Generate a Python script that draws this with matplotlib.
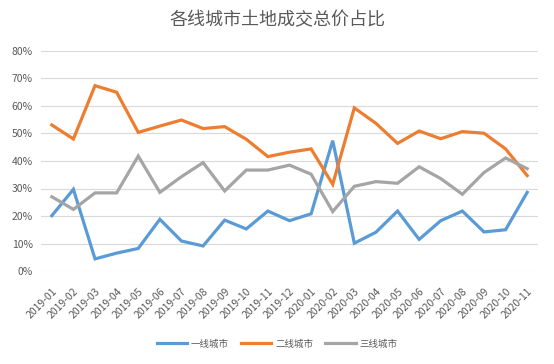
import matplotlib
matplotlib.use("Agg")
import matplotlib.pyplot as plt
from matplotlib.ticker import FuncFormatter, MultipleLocator

plt.rcParams['font.family'] = ['Noto Sans CJK SC', 'DejaVu Sans']

months = ["2019-01", "2019-02", "2019-03", "2019-04", "2019-05", "2019-06", "2019-07",
          "2019-08", "2019-09", "2019-10", "2019-11", "2019-12", "2020-01", "2020-02",
          "2020-03", "2020-04", "2020-05", "2020-06", "2020-07", "2020-08", "2020-09",
          "2020-10", "2020-11"]
tier1 = [20.1, 29.7, 4.4, 6.5, 8.2, 18.8, 10.9, 9.1, 18.5, 15.3, 21.8, 18.3, 20.8,
         47.4, 10.1, 14.1, 21.8, 11.5, 18.3, 21.8, 14.2, 15.0, 28.6]
tier2 = [53.1, 48.0, 67.4, 65.0, 50.4, 52.7, 54.9, 51.8, 52.5, 47.9, 41.6, 43.2, 44.4,
         31.5, 59.3, 53.7, 46.4, 50.9, 48.1, 50.7, 50.1, 44.4, 34.7]
tier3 = [27.0, 22.4, 28.4, 28.4, 41.8, 28.6, 34.3, 39.4, 29.1, 36.7, 36.7, 38.5, 35.2,
         21.6, 30.8, 32.5, 31.9, 37.9, 33.6, 27.9, 35.8, 41.1, 37.2]
series_names = ["一线城市", "二线城市", "三线城市"]
colors = ["#5B9BD5", "#ED7D31", "#A5A5A5"]
title = "各线城市土地成交总价占比"

fig = plt.figure(figsize=(5.54, 3.64), dpi=100)
ax = fig.add_axes([41/554, 1-271/364, (538-41)/554, (271-51)/364])

x = list(range(len(months)))
for vals, name, c in zip([tier1, tier2, tier3], series_names, colors):
    ax.plot(x, [v/100 for v in vals], color=c, lw=2.3, label=name, solid_joinstyle='miter')

ax.set_xlim(-0.5, len(months)-0.5)
ax.set_ylim(0, 0.8)
ax.yaxis.set_major_locator(MultipleLocator(0.1))
ax.yaxis.set_major_formatter(FuncFormatter(lambda v, p: f"{v*100:.0f}%"))
ax.grid(axis='y', color='#D9D9D9', lw=0.8)
ax.set_axisbelow(True)
for s in ax.spines.values():
    s.set_visible(False)
ax.tick_params(axis='both', length=0, colors='#595959', labelsize=7.5)
ax.tick_params(axis='y', pad=6)
ax.set_xticks(x)
ax.set_xticklabels(months, rotation=45, ha='right', rotation_mode='anchor', fontsize=7.5)
ax.tick_params(axis='x', pad=11)

fig.text(0.5, 1-20/364, title, ha='center', va='center', fontsize=13, color='#595959')

leg = fig.legend(loc='center', bbox_to_anchor=(0.5, 1-344/364), ncol=3, frameon=False,
                 prop={'size': 6.8}, handlelength=3.2, columnspacing=1.3, handletextpad=0.4,
                 labelcolor='#595959')

fig.savefig("out.png", dpi=100)
